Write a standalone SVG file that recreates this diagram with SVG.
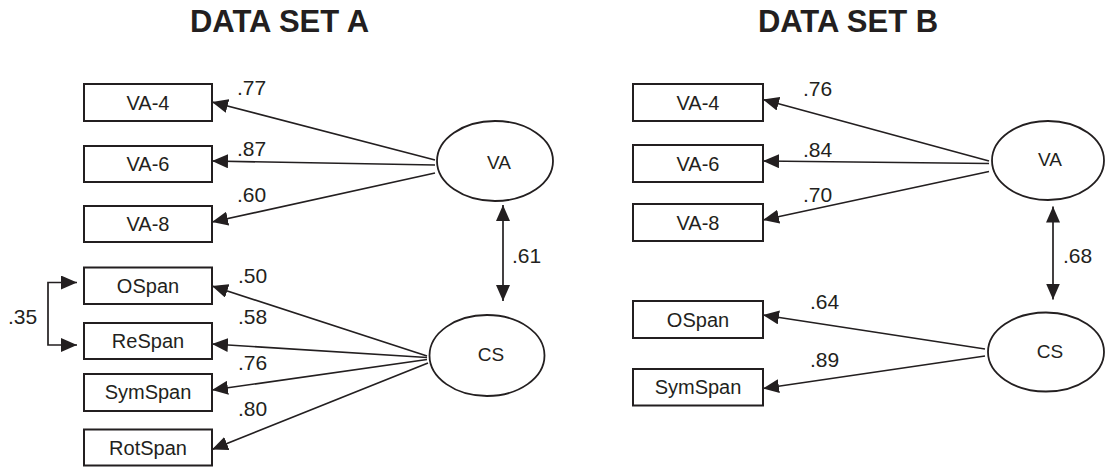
<svg xmlns="http://www.w3.org/2000/svg" width="1108" height="467" viewBox="0 0 1108 467">
<style>
.box{fill:#fff;stroke:#231f20;stroke-width:2}
.ell{fill:#fff;stroke:#231f20;stroke-width:1.8}
.bt{font-family:"Liberation Sans",Arial,sans-serif;font-size:20px;fill:#231f20;text-anchor:middle}
.et{font-family:"Liberation Sans",Arial,sans-serif;font-size:19px;fill:#231f20;text-anchor:middle}
.lb{font-family:"Liberation Sans",Arial,sans-serif;font-size:21px;fill:#231f20}
.tt{font-family:"Liberation Sans",Arial,sans-serif;font-size:31px;font-weight:bold;fill:#231f20;text-anchor:middle}
.cn{fill:none;stroke:#231f20;stroke-width:1.7}
</style>
<defs>
<marker id="ah" markerUnits="userSpaceOnUse" markerWidth="17" markerHeight="14" refX="16" refY="7" orient="auto-start-reverse" viewBox="0 0 17 14">
<path d="M0,0 L16,7 L0,14 z" fill="#231f20"/>
</marker>
</defs>
<text class="tt" x="279.5" y="31.5">DATA SET A</text>
<text class="tt" x="848" y="31.5">DATA SET B</text>
<g id="connectors">
<line class="cn" x1="435" y1="160" x2="212" y2="102" marker-end="url(#ah)"/>
<line class="cn" x1="435" y1="165" x2="212" y2="161" marker-end="url(#ah)"/>
<line class="cn" x1="435" y1="173" x2="212" y2="222" marker-end="url(#ah)"/>
<line class="cn" x1="503" y1="205" x2="503" y2="301" marker-start="url(#ah)" marker-end="url(#ah)"/>
<line class="cn" x1="427" y1="356" x2="212" y2="286" marker-end="url(#ah)"/>
<line class="cn" x1="427" y1="357.5" x2="212" y2="344" marker-end="url(#ah)"/>
<line class="cn" x1="427" y1="359.5" x2="212" y2="390" marker-end="url(#ah)"/>
<line class="cn" x1="428" y1="363" x2="212" y2="449.5" marker-end="url(#ah)"/>
<path class="cn" d="M77,282.5 H48 V345 H77" marker-start="url(#ah)" marker-end="url(#ah)"/>
<line class="cn" x1="989" y1="161" x2="763" y2="99.5" marker-end="url(#ah)"/>
<line class="cn" x1="989" y1="163.5" x2="763" y2="161" marker-end="url(#ah)"/>
<line class="cn" x1="989" y1="171.5" x2="763" y2="220" marker-end="url(#ah)"/>
<line class="cn" x1="1053" y1="206.5" x2="1053" y2="299.5" marker-start="url(#ah)" marker-end="url(#ah)"/>
<line class="cn" x1="985" y1="349" x2="763" y2="315" marker-end="url(#ah)"/>
<line class="cn" x1="985" y1="356" x2="763" y2="388.5" marker-end="url(#ah)"/>
</g>
<g id="labels">
<text class="lb" x="237" y="95">.77</text>
<text class="lb" x="237" y="156">.87</text>
<text class="lb" x="237" y="202">.60</text>
<text class="lb" x="512" y="263">.61</text>
<text class="lb" x="238" y="283">.50</text>
<text class="lb" x="238" y="324">.58</text>
<text class="lb" x="238" y="370">.76</text>
<text class="lb" x="238" y="415.5">.80</text>
<text class="lb" x="8" y="324">.35</text>
<text class="lb" x="803" y="96">.76</text>
<text class="lb" x="803" y="156.5">.84</text>
<text class="lb" x="803" y="201.5">.70</text>
<text class="lb" x="1063" y="263">.68</text>
<text class="lb" x="810" y="309">.64</text>
<text class="lb" x="810" y="367">.89</text>
</g>
<g id="a-va4"><rect class="box" x="84" y="84" width="128" height="37"/><text class="bt" x="148" y="109.5">VA-4</text></g>
<g id="a-va6"><rect class="box" x="84" y="146" width="128" height="36"/><text class="bt" x="148" y="171">VA-6</text></g>
<g id="a-va8"><rect class="box" x="84" y="206" width="128" height="36"/><text class="bt" x="148" y="231">VA-8</text></g>
<g id="a-ospan"><rect class="box" x="84" y="267.5" width="128" height="36.5"/><text class="bt" x="148" y="292.5">OSpan</text></g>
<g id="a-respan"><rect class="box" x="84" y="323" width="128" height="36"/><text class="bt" x="148" y="348">ReSpan</text></g>
<g id="a-symspan"><rect class="box" x="84" y="374" width="128" height="37"/><text class="bt" x="148" y="399">SymSpan</text></g>
<g id="a-rotspan"><rect class="box" x="84" y="429.5" width="128" height="36"/><text class="bt" x="148" y="454.5">RotSpan</text></g>
<g id="a-va"><ellipse class="ell" cx="495" cy="161" rx="58" ry="40"/><text class="et" x="499" y="169">VA</text></g>
<g id="a-cs"><ellipse class="ell" cx="487" cy="355.5" rx="57.5" ry="40.5"/><text class="et" x="491" y="361">CS</text></g>
<g id="b-va4"><rect class="box" x="633" y="84" width="130" height="37"/><text class="bt" x="698" y="109.5">VA-4</text></g>
<g id="b-va6"><rect class="box" x="633" y="145" width="130" height="37"/><text class="bt" x="698" y="170.5">VA-6</text></g>
<g id="b-va8"><rect class="box" x="633" y="204" width="130" height="37"/><text class="bt" x="698" y="229.5">VA-8</text></g>
<g id="b-ospan"><rect class="box" x="633" y="301" width="130" height="37"/><text class="bt" x="698" y="326.5">OSpan</text></g>
<g id="b-symspan"><rect class="box" x="633" y="369" width="130" height="36.5"/><text class="bt" x="698" y="394">SymSpan</text></g>
<g id="b-va"><ellipse class="ell" cx="1048" cy="160.5" rx="56" ry="39.5"/><text class="et" x="1050" y="166">VA</text></g>
<g id="b-cs"><ellipse class="ell" cx="1046" cy="352" rx="58" ry="39.5"/><text class="et" x="1050" y="358">CS</text></g>
</svg>
